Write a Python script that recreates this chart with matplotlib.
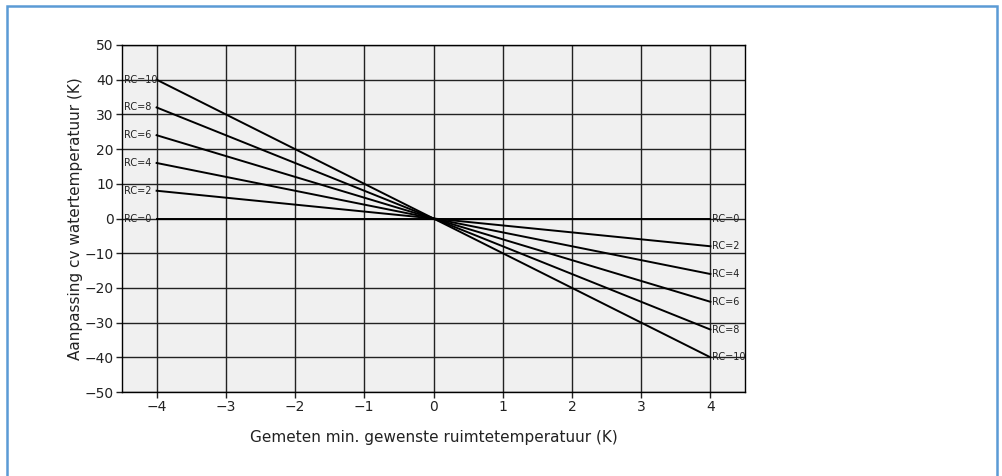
import matplotlib
matplotlib.use("Agg")
import matplotlib.pyplot as plt
import numpy as np
from matplotlib.patches import Rectangle

rc_values = [0, 2, 4, 6, 8, 10]
x_range = [-4, 4]
x_ticks = [-4, -3, -2, -1, 0, 1, 2, 3, 4]
y_ticks = [-50, -40, -30, -20, -10, 0, 10, 20, 30, 40, 50]
xlabel = "Gemeten min. gewenste ruimtetemperatuur (K)"
ylabel = "Aanpassing cv watertemperatuur (K)"

W, H = 1002, 476
fig = plt.figure(figsize=(W / 100, H / 100), dpi=100)
fig.patch.set_facecolor("white")

# outer border
fig.add_artist(Rectangle((6.5 / W, -0.05), (997 - 6.5) / W, 1.05 - 6.5 / H,
                         transform=fig.transFigure, fill=False,
                         edgecolor="#5b9bd5", linewidth=1.8))

left, right = 122 / W, 745 / W
top, bottom = 45 / H, 392 / H
ax = fig.add_axes([left, 1 - bottom, right - left, bottom - top])
ax.set_facecolor("#f0f0f0")
ax.set_xlim(-4.5, 4.5)
ax.set_ylim(-50, 50)
ax.set_xticks(x_ticks)
ax.set_yticks(y_ticks)
ax.set_xticklabels([f"\u2212{abs(t)}" if t < 0 else str(t) for t in x_ticks])
ax.set_yticklabels([f"\u2212{abs(t)}" if t < 0 else str(t) for t in y_ticks])
ax.grid(True, color="#222222", linewidth=1.0)
ax.set_axisbelow(True)
for s in ax.spines.values():
    s.set_color("black")
    s.set_linewidth(1.0)
ax.tick_params(direction="out", length=4, width=1, labelsize=10, colors="#222222", pad=2)

xs = np.array(x_range, dtype=float)
for rc in rc_values:
    ys = -rc * xs
    ax.plot(xs, ys, color="black", linewidth=1.4, zorder=3)
    ax.text(-4.47, ys[0], f"RC={rc}", ha="left", va="center",
            fontsize=7, color="#222222", zorder=4)
    ax.text(xs[1] + 0.02, ys[1], f"RC={rc}", ha="left", va="center",
            fontsize=7, color="#222222", zorder=4)

ax.set_xlabel(xlabel, fontsize=11, labelpad=11, color="#222222")
ax.set_ylabel(ylabel, fontsize=11, labelpad=1, color="#222222")

fig.savefig("out.png", dpi=100, facecolor="white")
